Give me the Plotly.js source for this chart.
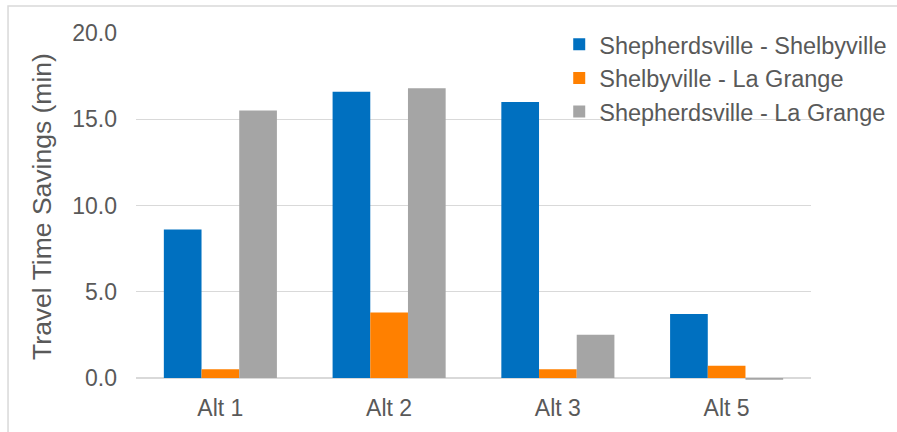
<!DOCTYPE html>
<html>
<head>
<meta charset="utf-8">
<script src="https://cdn.plot.ly/plotly-3.0.1.min.js"></script>
<style>html,body{margin:0;padding:0;background:#fff;}#chart{width:897px;height:432px;}</style>
</head>
<body>
<div id="chart"></div>
<script>
const categories = ["Alt 1", "Alt 2", "Alt 3", "Alt 5"];
const seriesNames = ["Shepherdsville - Shelbyville", "Shelbyville - La Grange", "Shepherdsville - La Grange"];
const shepShel = [8.6, 16.6, 16.0, 3.7];
const shelLag = [0.5, 3.8, 0.5, 0.7];
const shepLag = [15.5, 16.8, 2.5, -0.1];
const colors = ["#0070C0", "#FF8000", "#A5A5A5"];
const yTicks = [0, 5, 10, 15, 20];
const yTickLabels = ["0.0", "5.0", "10.0", "15.0", "20.0"];

const series = [shepShel, shelLag, shepLag];
const traces = series.map((vals, i) => ({
  type: "bar",
  x: categories,
  y: vals,
  name: seriesNames[i],
  marker: {color: colors[i], line: {width: 0}},
  hoverinfo: "skip"
}));

const font = "Liberation Sans, Arial, sans-serif";
const layout = {
  width: 897, height: 432,
  margin: {l: 136, r: 86, t: 33, b: 52, autoexpand: false},
  paper_bgcolor: "#ffffff",
  plot_bgcolor: "#ffffff",
  barmode: "group",
  bargap: 0.33,
  bargroupgap: 0,
  font: {family: font, color: "#595959", size: 23},
  showlegend: true,
  legend: {
    x: 0.627, xanchor: "left", y: 1.03, yanchor: "top",
    bgcolor: "rgba(0,0,0,0)",
    font: {family: font, size: 23.5, color: "#595959"},
    traceorder: "normal",
    tracegroupgap: 0
  },
  xaxis: {
    type: "category",
    showgrid: false,
    showline: false,
    zeroline: false,
    ticks: "",
    tickfont: {family: font, size: 23, color: "#595959"},
    ticklabelstandoff: 12,
    fixedrange: true
  },
  yaxis: {
    range: [-0.12, 20],
    tickvals: yTicks,
    ticktext: yTickLabels,
    showgrid: true,
    gridcolor: "#D9D9D9",
    gridwidth: 1.3,
    zeroline: true,
    zerolinecolor: "#D9D9D9",
    zerolinewidth: 1.5,
    showline: false,
    ticks: "",
    tickfont: {family: font, size: 23, color: "#595959"},
    ticklabelstandoff: 18,
    title: {text: "Travel Time Savings (min)", font: {family: font, size: 26.5, color: "#595959"}, standoff: 12},
    automargin: false,
    fixedrange: true
  },
  shapes: [{
    type: "rect", xref: "paper", yref: "paper",
    x0: -0.1896, x1: 1.2, y0: -0.3, y1: 1.0777,
    line: {color: "#D9D9D9", width: 1.5},
    fillcolor: "rgba(0,0,0,0)",
    layer: "below"
  }]
};

Plotly.newPlot("chart", traces, layout, {displayModeBar: false, staticPlot: true});
</script>
</body>
</html>
